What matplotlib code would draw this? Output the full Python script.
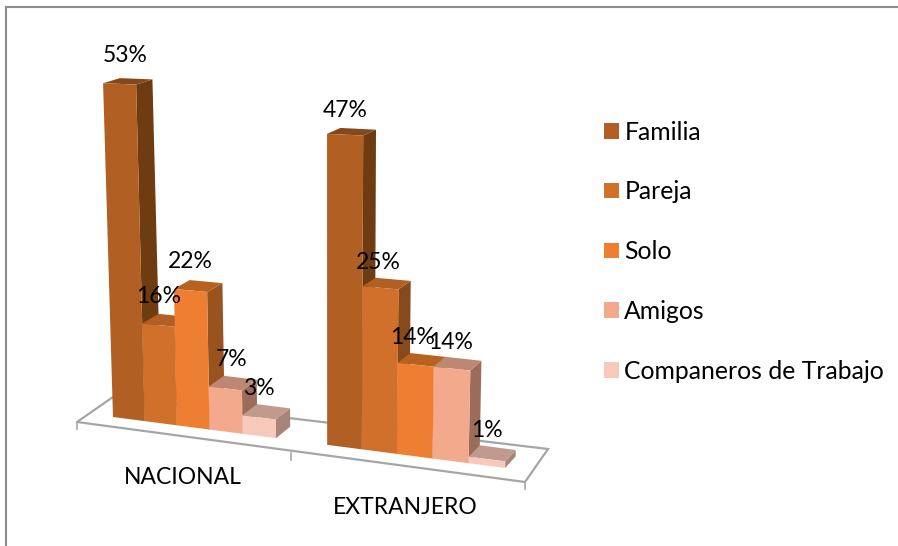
import matplotlib
matplotlib.use("Agg")
import matplotlib.pyplot as plt
from matplotlib.patches import Polygon, Patch

categories = ["NACIONAL", "EXTRANJERO"]
series = ["Familia", "Pareja", "Solo", "Amigos", "Companeros de Trabajo"]
nacional = [53, 16, 22, 7, 3]
extranjero = [47, 25, 14, 14, 1]
front_colors = ["#B15F22", "#D0702B", "#EE7E32", "#F3A98C", "#F7C9BB"]
top_colors = ["#84481A", "#B15F22", "#B8621F", "#BE8773", "#C09A8D"]
side_colors = ["#6F3C12", "#864A1B", "#98531F", "#9C6C5A", "#A88478"]

plt.rcParams["font.family"] = "Lato"
FS = 16.5
LFS = 17.8
fig = plt.figure(figsize=(8.98, 5.46), dpi=100)
ax = fig.add_axes([0, 0, 1, 1])
ax.set_xlim(0, 898)
ax.set_ylim(546, 0)
ax.axis("off")

GAP = 1.5  # empty slots between the two bar groups
# small pixel shifts of individual value labels (right, down)
label_nudge = {(0, 0): (6, 1), (0, 3): (6, 0), (1, 0): (0, 5), (1, 1): (-2, 4),
               (1, 2): (-3, 2), (1, 3): (-2, 3)}


def front_x(s):
    return 113 + 31.46 * s + 0.229 * s * s


def front_y(x):
    return 417 + (x - 113) * 0.13


def project(s, depth, z):
    """Slot position, depth (0 front, 1 back) and percentage to picture coordinates."""
    x = front_x(s)
    y = front_y(x)
    h = z * (5.95 + 0.0016 * (x - 113)) * (1 + 0.0011 * z)
    px = x + (x - 330) * 1.37e-4 * h
    py = y - h
    px += depth * (17 - 0.016 * (x - 100))
    py -= depth * (11.5 - 0.12 * z)
    return px, py


# floor
floor_color = "#A6A6A6"
fl, fr, br, bl = (77, 422), (525, 482), (548, 449), (113, 397)
ax.add_patch(Polygon([fl, fr, br, bl], closed=True, fc="white", ec=floor_color, lw=1.6, zorder=1))
for tick_x, tick_y in [fl, (291, 452.7), fr]:
    ax.plot([tick_x, tick_x], [tick_y, tick_y + 7], color=floor_color, lw=1.2, zorder=1)

# bars
for c, values in enumerate([nacional, extranjero]):
    start = c * (5 + GAP)
    for i, v in enumerate(values):
        s0, s1 = start + i, start + i + 1
        fb_l, fb_r = project(s0, 0, 0), project(s1, 0, 0)
        ft_l, ft_r = project(s0, 0, v), project(s1, 0, v)
        bt_l, bt_r = project(s0, 1, v), project(s1, 1, v)
        bb_r = project(s1, 1, 0)
        ax.add_patch(Polygon([fb_r, ft_r, bt_r, bb_r], fc=side_colors[i], ec="none", zorder=3))
        ax.add_patch(Polygon([ft_l, ft_r, bt_r, bt_l], fc=top_colors[i], ec="none", zorder=3))
        ax.add_patch(Polygon([fb_l, fb_r, ft_r, ft_l], fc=front_colors[i], ec="none", zorder=3))
        dx, dy = label_nudge.get((c, i), (0, 0))
        cx = (ft_l[0] + ft_r[0]) / 2 + dx
        cy = (ft_l[1] + ft_r[1]) / 2 + dy - 29
        ax.text(cx, cy, f"{v}%", ha="center", va="center", fontsize=FS, color="black", zorder=5)

# category labels
ax.text(183, 477, categories[0], ha="center", va="center", fontsize=FS)
ax.text(405, 508, categories[1], ha="center", va="center", fontsize=FS)

# legend
handles = [Patch(fc=c, ec="none", label=n) for c, n in zip(front_colors, series)]
ax.legend(handles=handles, loc="upper left", bbox_to_anchor=(604 / 898, 1 - 120.5 / 546),
          frameon=False, fontsize=LFS, handlelength=0.6, handleheight=0.6, handletextpad=0.22,
          labelspacing=1.49, borderpad=0, borderaxespad=0)

# frame: only the top and left edges fall inside the picture
ax.plot([6, 6], [546, 7], color="#8C8C8C", lw=1.5, zorder=0, solid_capstyle="projecting")
ax.plot([6, 898], [7, 7], color="#8C8C8C", lw=1.5, zorder=0, solid_capstyle="projecting")

fig.savefig("out.png", dpi=100)
